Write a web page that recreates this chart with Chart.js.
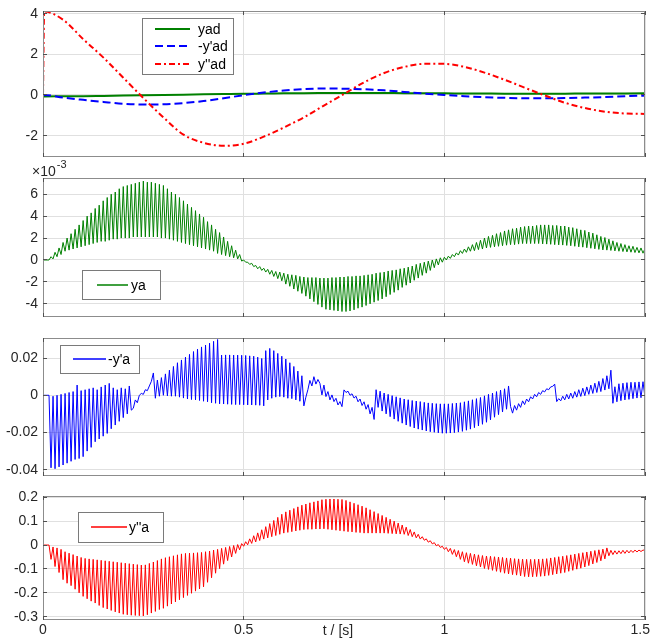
<!DOCTYPE html>
<html>
<head>
<meta charset="utf-8">
<script src="https://cdn.jsdelivr.net/npm/chart.js@4.4.1/dist/chart.umd.min.js"></script>
<style>
 html, body { margin: 0; padding: 0; background: #fff; }
 #wrap { position: relative; width: 650px; height: 643px; overflow: hidden; background: #fff; }
 #wrap canvas { position: absolute; left: 0; }
</style>
</head>
<body>
<div id="wrap">
 <canvas id="refChart" width="650" height="157" style="top:0px"></canvas>
 <canvas id="yaChart" width="650" height="159" style="top:158px"></canvas>
 <canvas id="dyaChart" width="650" height="150" style="top:326px"></canvas>
 <canvas id="ddyaChart" width="650" height="159" style="top:484px"></canvas>
</div>
<script>
var timeTicks = [0, 0.5, 1, 1.5];

// reference trajectories (t in s), step right after t = 0 for y''ad
var refTime = [0, 0.003, 0.05, 0.1, 0.15, 0.2, 0.25, 0.3, 0.35, 0.4, 0.45, 0.5,
 0.55, 0.6, 0.65, 0.7, 0.75, 0.8, 0.85, 0.9, 0.95, 1.0, 1.05, 1.1, 1.15, 1.2,
 1.25, 1.3, 1.35, 1.4, 1.45, 1.5];
var yad = [-0.07, -0.07, -0.065, -0.06, -0.045, -0.03, -0.015, 0, 0.015, 0.03, 0.045, 0.06,
 0.07, 0.08, 0.09, 0.095, 0.1, 0.1, 0.095, 0.09, 0.085, 0.08, 0.075, 0.07, 0.065, 0.065,
 0.065, 0.065, 0.07, 0.07, 0.075, 0.08];
var dyad = [0, 0, -0.13, -0.24, -0.34, -0.43, -0.47, -0.46, -0.4, -0.3, -0.16, -0.01,
 0.12, 0.22, 0.29, 0.32, 0.31, 0.28, 0.23, 0.15, 0.07, 0, -0.06, -0.11, -0.14, -0.16,
 -0.16, -0.15, -0.13, -0.1, -0.06, -0.03];
var ddyad = [0, 4.1, 3.7, 2.75, 1.85, 0.85, -0.15, -1.1, -1.95, -2.35, -2.5, -2.4,
 -2.05, -1.6, -1.1, -0.52, 0.05, 0.62, 1.08, 1.38, 1.53, 1.53, 1.38, 1.1, 0.75, 0.36,
 -0.02, -0.38, -0.64, -0.82, -0.91, -0.93];
var refTicks = [-2, 0, 2, 4];

// measured responses, one sample every 5 ms (rows of 50 ms)
var sampleStep = 0.005;

// ya, in units of 1e-3
var ya = [
 0, 0, 0, 0, 0.3, 0.1, 0.7, 0.3, 1.1, 0.5,
 1.6, 0.8, 2.0, 0.9, 2.4, 1.0, 2.8, 1.1, 3.2, 1.2,
 3.6, 1.3, 4.0, 1.4, 4.3, 1.5, 4.7, 1.6, 5.0, 1.7,
 5.4, 1.7, 5.7, 1.8, 6.0, 1.9, 6.2, 1.9, 6.5, 2.0,
 6.7, 2.0, 6.8, 2.0, 6.9, 2.1, 7.0, 2.1, 7.1, 2.1,
 7.2, 2.1, 7.1, 2.1, 7.1, 2.1, 7.0, 2.1, 6.9, 2.0,
 6.8, 2.0, 6.5, 1.9, 6.2, 1.8, 6.0, 1.7, 5.7, 1.6,
 5.4, 1.5, 5.1, 1.4, 4.8, 1.3, 4.5, 1.2, 4.2, 1.1,
 3.9, 1.0, 3.5, 0.9, 3.2, 0.8, 2.8, 0.6, 2.5, 0.5,
 2.1, 0.4, 1.7, 0.3, 1.3, 0.2, 0.9, 0.1, 0.5, -0.1,
 0.0, -0.2, -0.2, -0.4, -0.3, -0.6, -0.5, -0.8, -0.6, -0.95,
 -0.75, -1.1, -0.85, -1.3, -0.95, -1.5, -1.05, -1.7, -1.1, -1.9,
 -1.2, -2.2, -1.3, -2.4, -1.35, -2.65, -1.4, -2.85, -1.5, -3.05,
 -1.55, -3.3, -1.6, -3.55, -1.6, -3.8, -1.6, -4.05, -1.65, -4.3,
 -1.65, -4.5, -1.65, -4.55, -1.6, -4.6, -1.6, -4.65, -1.55, -4.7,
 -1.55, -4.7, -1.5, -4.65, -1.5, -4.55, -1.45, -4.4, -1.45, -4.3,
 -1.4, -4.15, -1.35, -4.0, -1.3, -3.85, -1.2, -3.7, -1.15, -3.55,
 -1.1, -3.35, -1.0, -3.15, -0.95, -2.95, -0.9, -2.75, -0.8, -2.5,
 -0.75, -2.3, -0.65, -2.1, -0.55, -1.85, -0.4, -1.65, -0.3, -1.4,
 -0.2, -1.2, -0.1, -0.95, 0.0, -0.7, 0.1, -0.45, 0.2, -0.2,
 0.25, 0.0, 0.35, 0.15, 0.5, 0.3, 0.65, 0.45, 0.85, 0.6,
 1.0, 0.7, 1.2, 0.8, 1.4, 0.85, 1.6, 0.95, 1.8, 1.0,
 2.0, 1.1, 2.15, 1.15, 2.25, 1.2, 2.4, 1.25, 2.5, 1.3,
 2.65, 1.35, 2.75, 1.4, 2.85, 1.4, 2.9, 1.45, 3.0, 1.5,
 3.05, 1.5, 3.1, 1.5, 3.1, 1.5, 3.15, 1.5, 3.2, 1.47,
 3.2, 1.45, 3.2, 1.43, 3.15, 1.4, 3.15, 1.38, 3.1, 1.36,
 3.1, 1.33, 3.0, 1.3, 2.95, 1.25, 2.85, 1.2, 2.75, 1.17,
 2.7, 1.12, 2.55, 1.07, 2.45, 1.02, 2.3, 0.97, 2.15, 0.92,
 2.05, 0.9, 1.9, 0.87, 1.75, 0.83, 1.6, 0.8, 1.5, 0.77,
 1.4, 0.74, 1.3, 0.71, 1.25, 0.68, 1.15, 0.65, 1.1, 0.62,
 1.05
];
var yaTicks = [-4, -2, 0, 2, 4, 6];

// -y'a
var dya = [
 0, 0, 0, 0, -0.039, -0.0005, -0.0395, 0, -0.0385, 0.0005,
 -0.0375, 0.001, -0.0365, 0.0015, -0.0355, 0.002, -0.0345, 0.0055, -0.034, 0.0025,
 -0.033, 0.003, -0.03, 0.0035, -0.028, 0.004, -0.025, 0.003, -0.0235, 0.0045,
 -0.022, 0.0055, -0.0205, 0.0064, -0.018, 0.004, -0.016, 0.003, -0.014, 0.004,
 -0.012, 0.0035, -0.01, 0.005, -0.008, -0.007, -0.0025, -0.004, 0, 0.001,
 0.0005, 0.003, 0.0025, 0.005, 0.0075, 0.012, -0.0016, 0.0082, -0.0005, 0.0095,
 0, 0.0115, -0.0003, 0.0135, -0.0005, 0.0155, -0.0005, 0.0175, -0.001, 0.019,
 -0.0015, 0.0205, -0.002, 0.022, -0.0023, 0.0235, -0.0025, 0.0248, -0.0028, 0.026,
 -0.0032, 0.027, -0.0035, 0.028, -0.004, 0.029, -0.0043, 0.030, -0.0046, 0.0216,
 -0.0047, 0.0217, -0.0048, 0.0217, -0.0049, 0.0216, -0.005, 0.0216, -0.005, 0.0215,
 -0.0051, 0.0214, -0.0052, 0.0212, -0.0052, 0.021, -0.0053, 0.0205, -0.0054, 0.0198,
 -0.0057, 0.024, -0.0025, 0.0252, -0.0016, 0.024, -0.001, 0.0225, -0.0007, 0.021,
 -0.001, 0.0195, -0.0016, 0.0175, -0.0018, 0.0155, -0.0025, 0.013, -0.0032, 0.0105,
 -0.0057, -0.001, 0.003, 0.008, 0.005, 0.01, 0.006, 0.0085, 0.0064, 0.0002,
 0.0055, -0.0007, 0.002, -0.0025, 0.0002, -0.0034, -0.0016, -0.0052, -0.0034, -0.0061,
 0.0029, 0.0015, 0.0022, 0, 0.0008, -0.0015, -0.0005, -0.0035, -0.002, -0.0055,
 -0.0035, -0.0075, -0.005, -0.01, -0.0065, -0.013, 0.003, -0.0065, 0.0022, -0.0085,
 0.0012, -0.01, 0.0005, -0.0115, -0.0002, -0.0128, -0.0008, -0.014, -0.0014, -0.015,
 -0.002, -0.016, -0.0024, -0.0168, -0.0028, -0.0176, -0.0031, -0.0182, -0.0034, -0.0187,
 -0.0038, -0.0192, -0.0041, -0.0196, -0.0043, -0.0199, -0.0045, -0.0202, -0.0046, -0.0204,
 -0.0046, -0.0204, -0.0046, -0.0203, -0.0044, -0.0201, -0.0042, -0.0198, -0.004, -0.0194,
 -0.0035, -0.0188, -0.003, -0.0182, -0.0024, -0.0174, -0.0018, -0.0165, -0.0012, -0.0156,
 -0.0003, -0.0145, 0.0005, -0.0132, 0.0012, -0.0118, 0.002, -0.0104, 0.0028, -0.009,
 0.0035, -0.0075, 0.005, -0.006, -0.0096, -0.0055, -0.008, -0.0045, -0.0065, -0.003,
 -0.005, -0.002, -0.0035, -0.0008, -0.002, 0.0005, -0.0008, 0.0015, 0.0005, 0.0025,
 0.0018, 0.0035, 0.003, 0.0045, 0.0048, 0.006, -0.0034, -0.0018, -0.003, -0.0005,
 -0.0025, 0.0005, -0.002, 0.0012, -0.0016, 0.002, -0.001, 0.003, -0.0006, 0.0038,
 -0.0002, 0.0045, 0.0005, 0.0055, 0.001, 0.0065, 0.0015, 0.0075, 0.002, 0.009,
 0.0028, 0.0105, 0.0035, 0.0135, -0.0043, 0.0046, -0.0035, 0.0062, -0.0029, 0.0065,
 -0.0025, 0.0068, -0.0022, 0.007, -0.0018, 0.007, -0.0015, 0.0072, -0.0013, 0.0073,
 -0.0012
];
var dyaTicks = [-0.04, -0.02, 0, 0.02];

// y''a
var ddya = [
 0, 0, 0, 0, -0.06, -0.008, -0.09, -0.012, -0.115, -0.018,
 -0.145, -0.028, -0.16, -0.034, -0.17, -0.04, -0.185, -0.046, -0.2, -0.052,
 -0.215, -0.056, -0.225, -0.058, -0.235, -0.06, -0.243, -0.062, -0.253, -0.064,
 -0.262, -0.066, -0.268, -0.068, -0.274, -0.07, -0.28, -0.072, -0.285, -0.074,
 -0.29, -0.076, -0.292, -0.078, -0.294, -0.08, -0.295, -0.082, -0.296, -0.084,
 -0.297, -0.083, -0.292, -0.077, -0.285, -0.071, -0.278, -0.065, -0.27, -0.058,
 -0.265, -0.053, -0.256, -0.049, -0.247, -0.045, -0.238, -0.041, -0.229, -0.037,
 -0.22, -0.035, -0.211, -0.034, -0.202, -0.033, -0.193, -0.032, -0.184, -0.031,
 -0.175, -0.028, -0.156, -0.025, -0.137, -0.021, -0.118, -0.018, -0.099, -0.014,
 -0.08, -0.01, -0.065, -0.006, -0.05, -0.002, -0.035, 0.002, -0.02, 0.006,
 -0.005, 0.014, 0.001, 0.026, 0.007, 0.039, 0.013, 0.051, 0.019, 0.064,
 0.025, 0.077, 0.03, 0.09, 0.035, 0.103, 0.04, 0.116, 0.045, 0.129,
 0.05, 0.139, 0.053, 0.146, 0.056, 0.153, 0.059, 0.16, 0.062, 0.167,
 0.065, 0.172, 0.066, 0.177, 0.066, 0.181, 0.067, 0.185, 0.067, 0.19,
 0.068, 0.192, 0.066, 0.193, 0.064, 0.193, 0.062, 0.192, 0.06, 0.191,
 0.058, 0.187, 0.056, 0.181, 0.055, 0.175, 0.053, 0.169, 0.052, 0.163,
 0.05, 0.156, 0.05, 0.148, 0.05, 0.14, 0.05, 0.132, 0.05, 0.124,
 0.05, 0.116, 0.049, 0.108, 0.048, 0.1, 0.047, 0.092, 0.046, 0.084,
 0.045, 0.075, 0.04, 0.065, 0.035, 0.055, 0.03, 0.045, 0.025, 0.035,
 0.02, 0.026, 0.012, 0.018, 0.005, 0.01, -0.003, 0.002, -0.01, -0.005,
 -0.018, -0.01, -0.028, -0.014, -0.039, -0.019, -0.049, -0.023, -0.06, -0.028,
 -0.07, -0.032, -0.076, -0.035, -0.081, -0.038, -0.087, -0.041, -0.092, -0.044,
 -0.098, -0.046, -0.102, -0.047, -0.106, -0.049, -0.11, -0.05, -0.114, -0.052,
 -0.118, -0.054, -0.121, -0.055, -0.124, -0.057, -0.126, -0.058, -0.129, -0.059,
 -0.132, -0.06, -0.133, -0.06, -0.133, -0.06, -0.132, -0.059, -0.131, -0.058,
 -0.13, -0.057, -0.127, -0.054, -0.124, -0.052, -0.121, -0.049, -0.118, -0.047,
 -0.115, -0.044, -0.11, -0.041, -0.106, -0.038, -0.101, -0.035, -0.097, -0.032,
 -0.092, -0.029, -0.086, -0.026, -0.079, -0.023, -0.073, -0.02, -0.066, -0.017,
 -0.058, -0.012, -0.045, -0.022, -0.04, -0.024, -0.038, -0.024, -0.036, -0.022,
 -0.035, -0.022, -0.033, -0.022, -0.031, -0.021, -0.029, -0.021, -0.027, -0.021,
 -0.022
];
var ddyaTicks = [-0.3, -0.2, -0.1, 0, 0.1, 0.2];

var fontFamily = "'Liberation Sans', Arial, sans-serif";
var gridColor = "#e0e0e0";
var textColor = "#262626";

function alignPx(p) {
 return Math.round(p - 0.5) + 0.5;
}

// box, inward ticks, legend and the extra labels MATLAB-style
var matlabAxes = {
 id: "matlabAxes",
 afterDatasetsDraw: function (chart, args, opts) {
  var ctx = chart.ctx;
  var area = chart.chartArea;
  var xs = chart.scales.x;
  var ys = chart.scales.y;
  var l = area.left, r = area.right, t = area.top, b = area.bottom;

  ctx.save();
  ctx.setLineDash([]);
  ctx.lineWidth = 1;
  ctx.strokeStyle = "#8c8c8c";
  ctx.strokeRect(l + 0.5, t + 0.5, r - l - 1, b - t - 1);

  ctx.strokeStyle = "#505050";
  ctx.beginPath();
  ys.ticks.forEach(function (tk) {
   var py = alignPx(ys.getPixelForValue(tk.value));
   ctx.moveTo(l, py);
   ctx.lineTo(l + 4, py);
   ctx.moveTo(r, py);
   ctx.lineTo(r - 4, py);
  });
  xs.ticks.forEach(function (tk) {
   var px = alignPx(xs.getPixelForValue(tk.value));
   ctx.moveTo(px, t);
   ctx.lineTo(px, t + 4);
   ctx.moveTo(px, b);
   ctx.lineTo(px, b - 4);
  });
  ctx.stroke();

  // legend
  var lg = opts.legend;
  var bx = l + lg.x, by = t + lg.y;
  ctx.fillStyle = "#fff";
  ctx.fillRect(bx, by, lg.w, lg.h);
  ctx.strokeStyle = "#7a7a7a";
  ctx.strokeRect(bx + 0.5, by + 0.5, lg.w, lg.h);
  ctx.font = "14px " + fontFamily;
  ctx.textAlign = "left";
  ctx.textBaseline = "middle";
  var ds = chart.data.datasets;
  ds.forEach(function (d, i) {
   var cy = Math.round(by + lg.h / 2 + (i - (ds.length - 1) / 2) * lg.rowH);
   ctx.strokeStyle = d.borderColor;
   ctx.lineWidth = Math.max(d.borderWidth, 1.5);
   ctx.setLineDash(d.borderDash || []);
   ctx.beginPath();
   ctx.moveTo(bx + lg.lineX, cy);
   ctx.lineTo(bx + lg.lineX + lg.lineLen, cy);
   ctx.stroke();
   ctx.fillStyle = "#000";
   ctx.fillText(d.label, bx + lg.lineX + lg.lineLen + lg.textGap, cy + 1);
  });
  ctx.setLineDash([]);

  // axis multiplier
  if (opts.exponent) {
   ctx.fillStyle = textColor;
   ctx.textBaseline = "alphabetic";
   ctx.font = "14px " + fontFamily;
   ctx.fillText("\u00d710", l - 11, t - 2);
   var w = ctx.measureText("\u00d710").width;
   ctx.font = "11px " + fontFamily;
   ctx.fillText(opts.exponent, l - 11 + w + 1, t - 10);
  }

  // time tick labels and axis title on the bottom plot
  if (opts.timeAxis) {
   ctx.fillStyle = textColor;
   ctx.font = "14px " + fontFamily;
   ctx.textBaseline = "middle";
   ctx.textAlign = "left";
   timeTicks.forEach(function (v) {
    var s = String(v);
    var tw = ctx.measureText(s).width;
    var px = xs.getPixelForValue(v) - tw / 2;
    px = Math.min(px, chart.width - tw);
    ctx.fillText(s, px, b + 10);
   });
   ctx.textAlign = "center";
   ctx.fillText(opts.timeAxis, (l + r) / 2 - 6, b + 11);
  }
  ctx.restore();
 }
};

function axesOptions(yMin, yMax, yTicks, padTop, xHeight, extras) {
 return {
  responsive: false,
  animation: false,
  devicePixelRatio: 1,
  events: [],
  layout: { padding: { top: padTop, right: 5, bottom: 0, left: 0 } },
  elements: {
   point: { radius: 0 },
   line: { tension: 0, borderJoinStyle: "round", borderCapStyle: "butt" },
  },
  plugins: {
   legend: { display: false },
   tooltip: { enabled: false },
   matlabAxes: extras,
  },
  scales: {
   x: {
    type: "linear",
    min: 0,
    max: 1.5,
    afterBuildTicks: function (s) {
     s.ticks = timeTicks.map(function (v) { return { value: v }; });
    },
    afterFit: function (s) {
     s.height = xHeight;
     s.paddingLeft = 0;
     s.paddingRight = 0;
    },
    ticks: { display: false },
    grid: { color: gridColor, drawTicks: false },
    border: { display: false },
   },
   y: {
    type: "linear",
    min: yMin,
    max: yMax,
    afterBuildTicks: function (s) {
     s.ticks = yTicks.map(function (v) { return { value: v }; });
    },
    afterFit: function (s) {
     s.width = 43;
     s.paddingTop = 0;
     s.paddingBottom = 0;
    },
    ticks: {
     autoSkip: false,
     padding: 5,
     color: textColor,
     font: { family: fontFamily, size: 14 },
     callback: function (v) { return String(v); },
    },
    grid: { color: gridColor, drawTicks: false },
    border: { display: false },
   },
  },
 };
}

function sampled(values) {
 return values.map(function (v, i) {
  return { x: i * sampleStep, y: v };
 });
}

function onRefTime(values) {
 return values.map(function (v, i) {
  return { x: refTime[i], y: v };
 });
}

new Chart(document.getElementById("refChart"), {
 type: "line",
 data: {
  datasets: [
   { label: "yad", data: onRefTime(yad), borderColor: "#008000", borderWidth: 2, order: 2, cubicInterpolationMode: "monotone" },
   { label: "-y'ad", data: onRefTime(dyad), borderColor: "#0000ff", borderWidth: 2, borderDash: [8, 4], order: 1, cubicInterpolationMode: "monotone" },
   { label: "y''ad", data: onRefTime(ddyad), borderColor: "#ff0000", borderWidth: 2, borderDash: [6, 3, 2, 3], order: 0, cubicInterpolationMode: "monotone" },
  ],
 },
 options: axesOptions(-3.05, 4.13, refTicks, 11, 0, {
  legend: { x: 99, y: 7, w: 91, h: 56, rowH: 17.5, lineX: 13, lineLen: 35, textGap: 8 },
 }),
 plugins: [matlabAxes],
});

new Chart(document.getElementById("yaChart"), {
 type: "line",
 data: {
  datasets: [
   { label: "ya", data: sampled(ya), borderColor: "#008000", borderWidth: 1 },
  ],
 },
 options: axesOptions(-5.2, 7.48, yaTicks, 20, 0, {
  legend: { x: 39, y: 92, w: 78, h: 29, rowH: 0, lineX: 15, lineLen: 31, textGap: 3 },
  exponent: "-3",
 }),
 plugins: [matlabAxes],
});

new Chart(document.getElementById("dyaChart"), {
 type: "line",
 data: {
  datasets: [
   { label: "-y'a", data: sampled(dya), borderColor: "#0000ff", borderWidth: 1 },
  ],
 },
 options: axesOptions(-0.0434, 0.0308, dyaTicks, 12, 0, {
  legend: { x: 17, y: 7, w: 79, h: 28, rowH: 0, lineX: 13, lineLen: 33, textGap: 2 },
 }),
 plugins: [matlabAxes],
});

new Chart(document.getElementById("ddyaChart"), {
 type: "line",
 data: {
  datasets: [
   { label: "y''a", data: sampled(ddya), borderColor: "#ff0000", borderWidth: 1 },
  ],
 },
 options: axesOptions(-0.314, 0.2055, ddyaTicks, 12, 23, {
  legend: { x: 35, y: 16, w: 85, h: 30, rowH: 0, lineX: 13, lineLen: 36, textGap: 2 },
  timeAxis: "t / [s]",
 }),
 plugins: [matlabAxes],
});
</script>
</body>
</html>
